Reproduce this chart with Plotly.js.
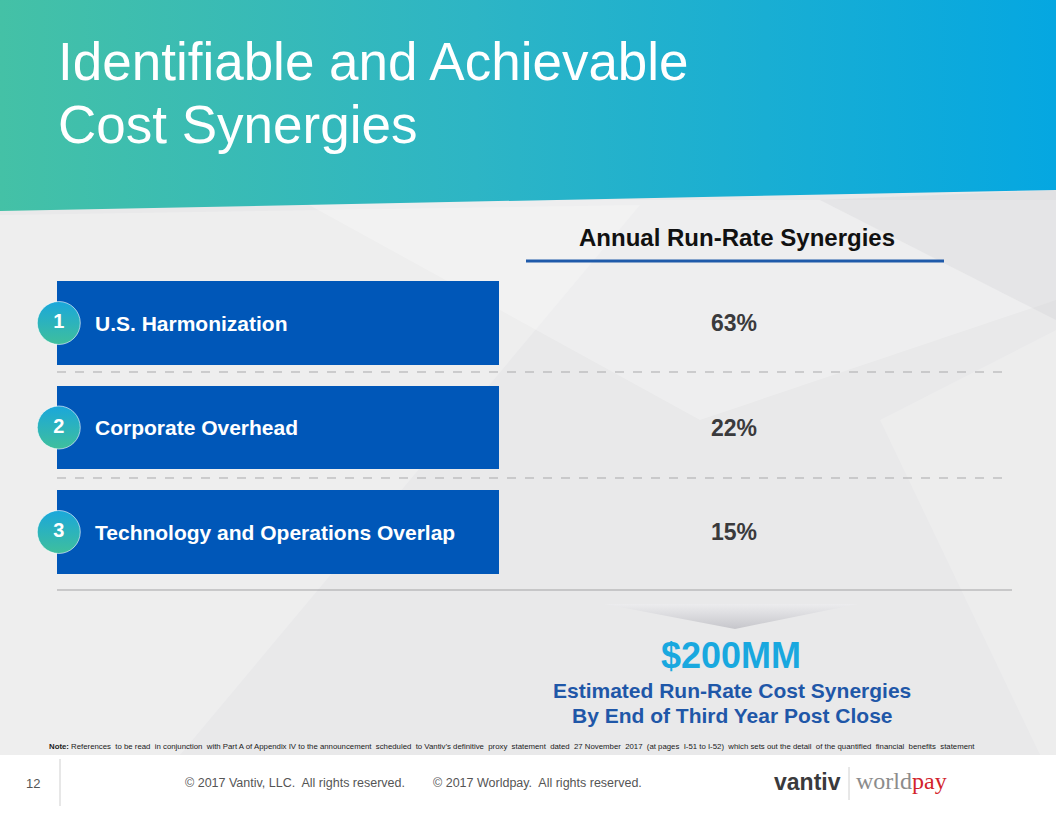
<!DOCTYPE html>
<html>
<head>
<meta charset="utf-8">
<script src="https://cdn.plot.ly/plotly-3.0.1.min.js"></script>
<style>
  html, body { margin: 0; padding: 0; background: #ffffff; }
  #chart { width: 1056px; height: 816px; }
</style>
</head>
<body>
<div id="chart"></div>
<script>
// ---------------- DATA ----------------
const categories = ['U.S. Harmonization', 'Corporate Overhead', 'Technology and Operations Overlap'];
const rowNumbers = ['1', '2', '3'];
const synergyShares = [63, 22, 15];           // % of annual run-rate synergies
const columnHeader = 'Annual Run-Rate Synergies';
const totalSynergies = '$200MM';
const totalCaption = ['Estimated Run-Rate Cost Synergies', 'By End of Third Year Post Close'];
const titleLines = ['Identifiable and Achievable', 'Cost Synergies'];
const noteText = '<b>Note:</b> References  to be read  in conjunction  with Part A of Appendix IV to the announcement  scheduled  to Vantiv\u2019s definitive  proxy  statement  dated  27 November  2017  (at pages  I-51 to I-52)  which sets out the detail  of the quantified  financial  benefits  statement';
const footerLeft = '\u00A9 2017 Vantiv, LLC.  All rights reserved.';
const footerRight = '\u00A9 2017 Worldpay.  All rights reserved.';
const pageNumber = '12';

// ---------------- LAYOUT HELPERS ----------------
const W = 1056, H = 816;
const px = x => x / W;
const py = y => 1 - y / H;
const FONT = 'Liberation Sans, Arial, Helvetica, sans-serif';
const SERIF = 'Liberation Serif, Times New Roman, serif';

const rowTop = 270.75, rowBottom = 584.25;

const traces = [];

// Header band with horizontal gradient
traces.push({
  type: 'scatter', mode: 'lines', xaxis: 'x', yaxis: 'y',
  x: [0, W, W, 0, 0], y: [0, 0, 190, 211, 0],
  fill: 'toself', line: { width: 0, color: 'rgba(0,0,0,0)' },
  fillgradient: { type: 'horizontal', colorscale: [[0, '#44c1a6'], [0.45, '#2db5c5'], [1, '#05a7e1']] },
  hoverinfo: 'skip', showlegend: false
});
// Chevron below the rows
traces.push({
  type: 'scatter', mode: 'lines', xaxis: 'x', yaxis: 'y',
  x: [604, 858, 735, 604], y: [604, 604, 629, 604],
  fill: 'toself', line: { width: 0, color: 'rgba(0,0,0,0)' },
  fillgradient: { type: 'vertical', colorscale: [[0, '#c6c6cb'], [1, '#ececee']] },
  hoverinfo: 'skip', showlegend: false
});

// Row boxes (constant-length bars: the boxes are labels, not proportional to values)
traces.push({
  type: 'bar', orientation: 'h', xaxis: 'x2', yaxis: 'y2',
  y: categories, x: categories.map(() => 1), width: 0.8,
  marker: { color: '#0057b8', line: { width: 0 } },
  hoverinfo: 'skip', showlegend: false
});
// Numbered circles
traces.push({
  type: 'scatter', mode: 'markers+text', xaxis: 'x2', yaxis: 'y2', cliponaxis: false,
  y: categories, x: categories.map(() => 0.004),
  text: rowNumbers, textposition: 'middle center',
  textfont: { family: FONT, size: 20, color: '#ffffff', weight: 'bold' },
  marker: { size: 43, color: '#1aa7db', gradient: { type: 'vertical', color: '#3fbf9c' },
            line: { width: 1, color: 'rgba(255,255,255,0.6)' } },
  hoverinfo: 'skip', showlegend: false
});

// ---------------- SHAPES ----------------
const shapes = [
  // gray page body
  { type: 'rect', xref: 'paper', yref: 'paper', x0: 0, x1: 1, y0: py(755), y1: 1, fillcolor: '#e9e9ea', line: { width: 0 }, layer: 'below' },
  // subtle light streaks
  { type: 'path', xref: 'paper', yref: 'paper', layer: 'below', fillcolor: 'rgba(255,255,255,0.22)', line: { width: 0 },
    path: `M ${px(0)} ${py(215)} L ${px(640)} ${py(205)} L ${px(180)} ${py(755)} L ${px(0)} ${py(755)} Z` },
  { type: 'path', xref: 'paper', yref: 'paper', layer: 'below', fillcolor: 'rgba(255,255,255,0.25)', line: { width: 0 },
    path: `M ${px(300)} ${py(200)} L ${px(1056)} ${py(200)} L ${px(1056)} ${py(300)} L ${px(700)} ${py(420)} Z` },
  { type: 'path', xref: 'paper', yref: 'paper', layer: 'below', fillcolor: 'rgba(255,255,255,0.18)', line: { width: 0 },
    path: `M ${px(880)} ${py(420)} L ${px(1056)} ${py(330)} L ${px(1056)} ${py(755)} L ${px(1040)} ${py(755)} Z` },
  { type: 'path', xref: 'paper', yref: 'paper', layer: 'below', fillcolor: 'rgba(205,205,208,0.25)', line: { width: 0 },
    path: `M ${px(820)} ${py(200)} L ${px(1056)} ${py(190)} L ${px(1056)} ${py(320)} Z` },
  // header underline
  { type: 'line', xref: 'paper', yref: 'paper', x0: px(526), x1: px(944), y0: py(261), y1: py(261), line: { color: '#1f5aaa', width: 3 } },
  // dashed separators
  { type: 'line', xref: 'paper', yref: 'paper', x0: px(57), x1: px(1003), y0: py(372), y1: py(372), line: { color: '#a9a9ab', width: 1, dash: 'dash' } },
  { type: 'line', xref: 'paper', yref: 'paper', x0: px(57), x1: px(1003), y0: py(478), y1: py(478), line: { color: '#a9a9ab', width: 1, dash: 'dash' } },
  // solid bottom line
  { type: 'line', xref: 'paper', yref: 'paper', x0: px(57), x1: px(1012), y0: py(590), y1: py(590), line: { color: '#a3a3a5', width: 1 } },
  // footer divider
  { type: 'line', xref: 'paper', yref: 'paper', x0: px(60), x1: px(60), y0: py(759), y1: py(806), line: { color: '#cfcfcf', width: 1 } },
  // logo divider
  { type: 'line', xref: 'paper', yref: 'paper', x0: px(849), x1: px(849), y0: py(767), y1: py(800), line: { color: '#d0d0d0', width: 1 } }
];

// ---------------- ANNOTATIONS ----------------
const ann = [];
const addText = (text, x, y, size, color, opts = {}) => ann.push(Object.assign({
  text, x: px(x), y: py(y), xref: 'paper', yref: 'paper', showarrow: false,
  xanchor: 'center', yanchor: 'middle',
  font: { family: FONT, size, color }
}, opts));

// title
addText(titleLines[0], 56, 62, 53, '#ffffff', { xanchor: 'left' });
addText(titleLines[1], 56, 124, 53, '#ffffff', { xanchor: 'left' });
// column header
addText('<b>' + columnHeader + '</b>', 737, 237, 24, '#111111');

// row labels and values
categories.forEach((c, i) => {
  ann.push({ text: '<b>' + c + '</b>', xref: 'x2', yref: 'y2', x: (93 - 57) / 442, y: c,
    xanchor: 'left', yanchor: 'middle', showarrow: false,
    font: { family: FONT, size: 21, color: '#ffffff' } });
  ann.push({ text: '<b>' + synergyShares[i] + '%</b>', xref: 'paper', yref: 'y2', x: px(734), y: c,
    xanchor: 'center', yanchor: 'middle', showarrow: false,
    font: { family: FONT, size: 23, color: '#3a3a3c' } });
});

// total
addText('<b>' + totalSynergies + '</b>', 731, 655, 36, '#19a8df');
addText('<b>' + totalCaption[0] + '</b>', 732, 690, 21, '#1f57a8');
addText('<b>' + totalCaption[1] + '</b>', 732, 715, 21, '#1f57a8');

// note
addText(noteText, 47, 746, 7.8, '#1a1a1a', { xanchor: 'left' });

// footer
addText(pageNumber, 33, 783, 13, '#555555');
addText(footerLeft, 295, 783, 12.5, '#555555');
addText(footerRight, 537, 783, 12.5, '#555555');
addText('<b>vantiv</b>', 772, 782, 23, '#3a3a3c', { xanchor: 'left', font: { family: FONT, size: 23, color: '#3a3a3c' } });
addText('world<span style="color:#d2232a">pay</span>', 854, 781, 24, '#8c8c8c', { xanchor: 'left', font: { family: SERIF, size: 24, color: '#8c8c8c' } });

const layout = {
  width: W, height: H,
  margin: { l: 0, r: 0, t: 0, b: 0, pad: 0 },
  paper_bgcolor: '#ffffff', plot_bgcolor: 'rgba(0,0,0,0)',
  showlegend: false, hovermode: false,
  xaxis: { domain: [0, 1], range: [0, W], visible: false, fixedrange: true },
  yaxis: { domain: [0, 1], range: [H, 0], visible: false, fixedrange: true },
  xaxis2: { domain: [px(57), px(499)], range: [0, 1], visible: false, fixedrange: true, anchor: 'y2' },
  yaxis2: { domain: [py(rowBottom), py(rowTop)], type: 'category', range: [2.5, -0.5], visible: false, fixedrange: true, anchor: 'x2' },
  bargap: 0,
  shapes, annotations: ann
};

Plotly.newPlot('chart', traces, layout, { staticPlot: true, displayModeBar: false });
</script>
</body>
</html>
